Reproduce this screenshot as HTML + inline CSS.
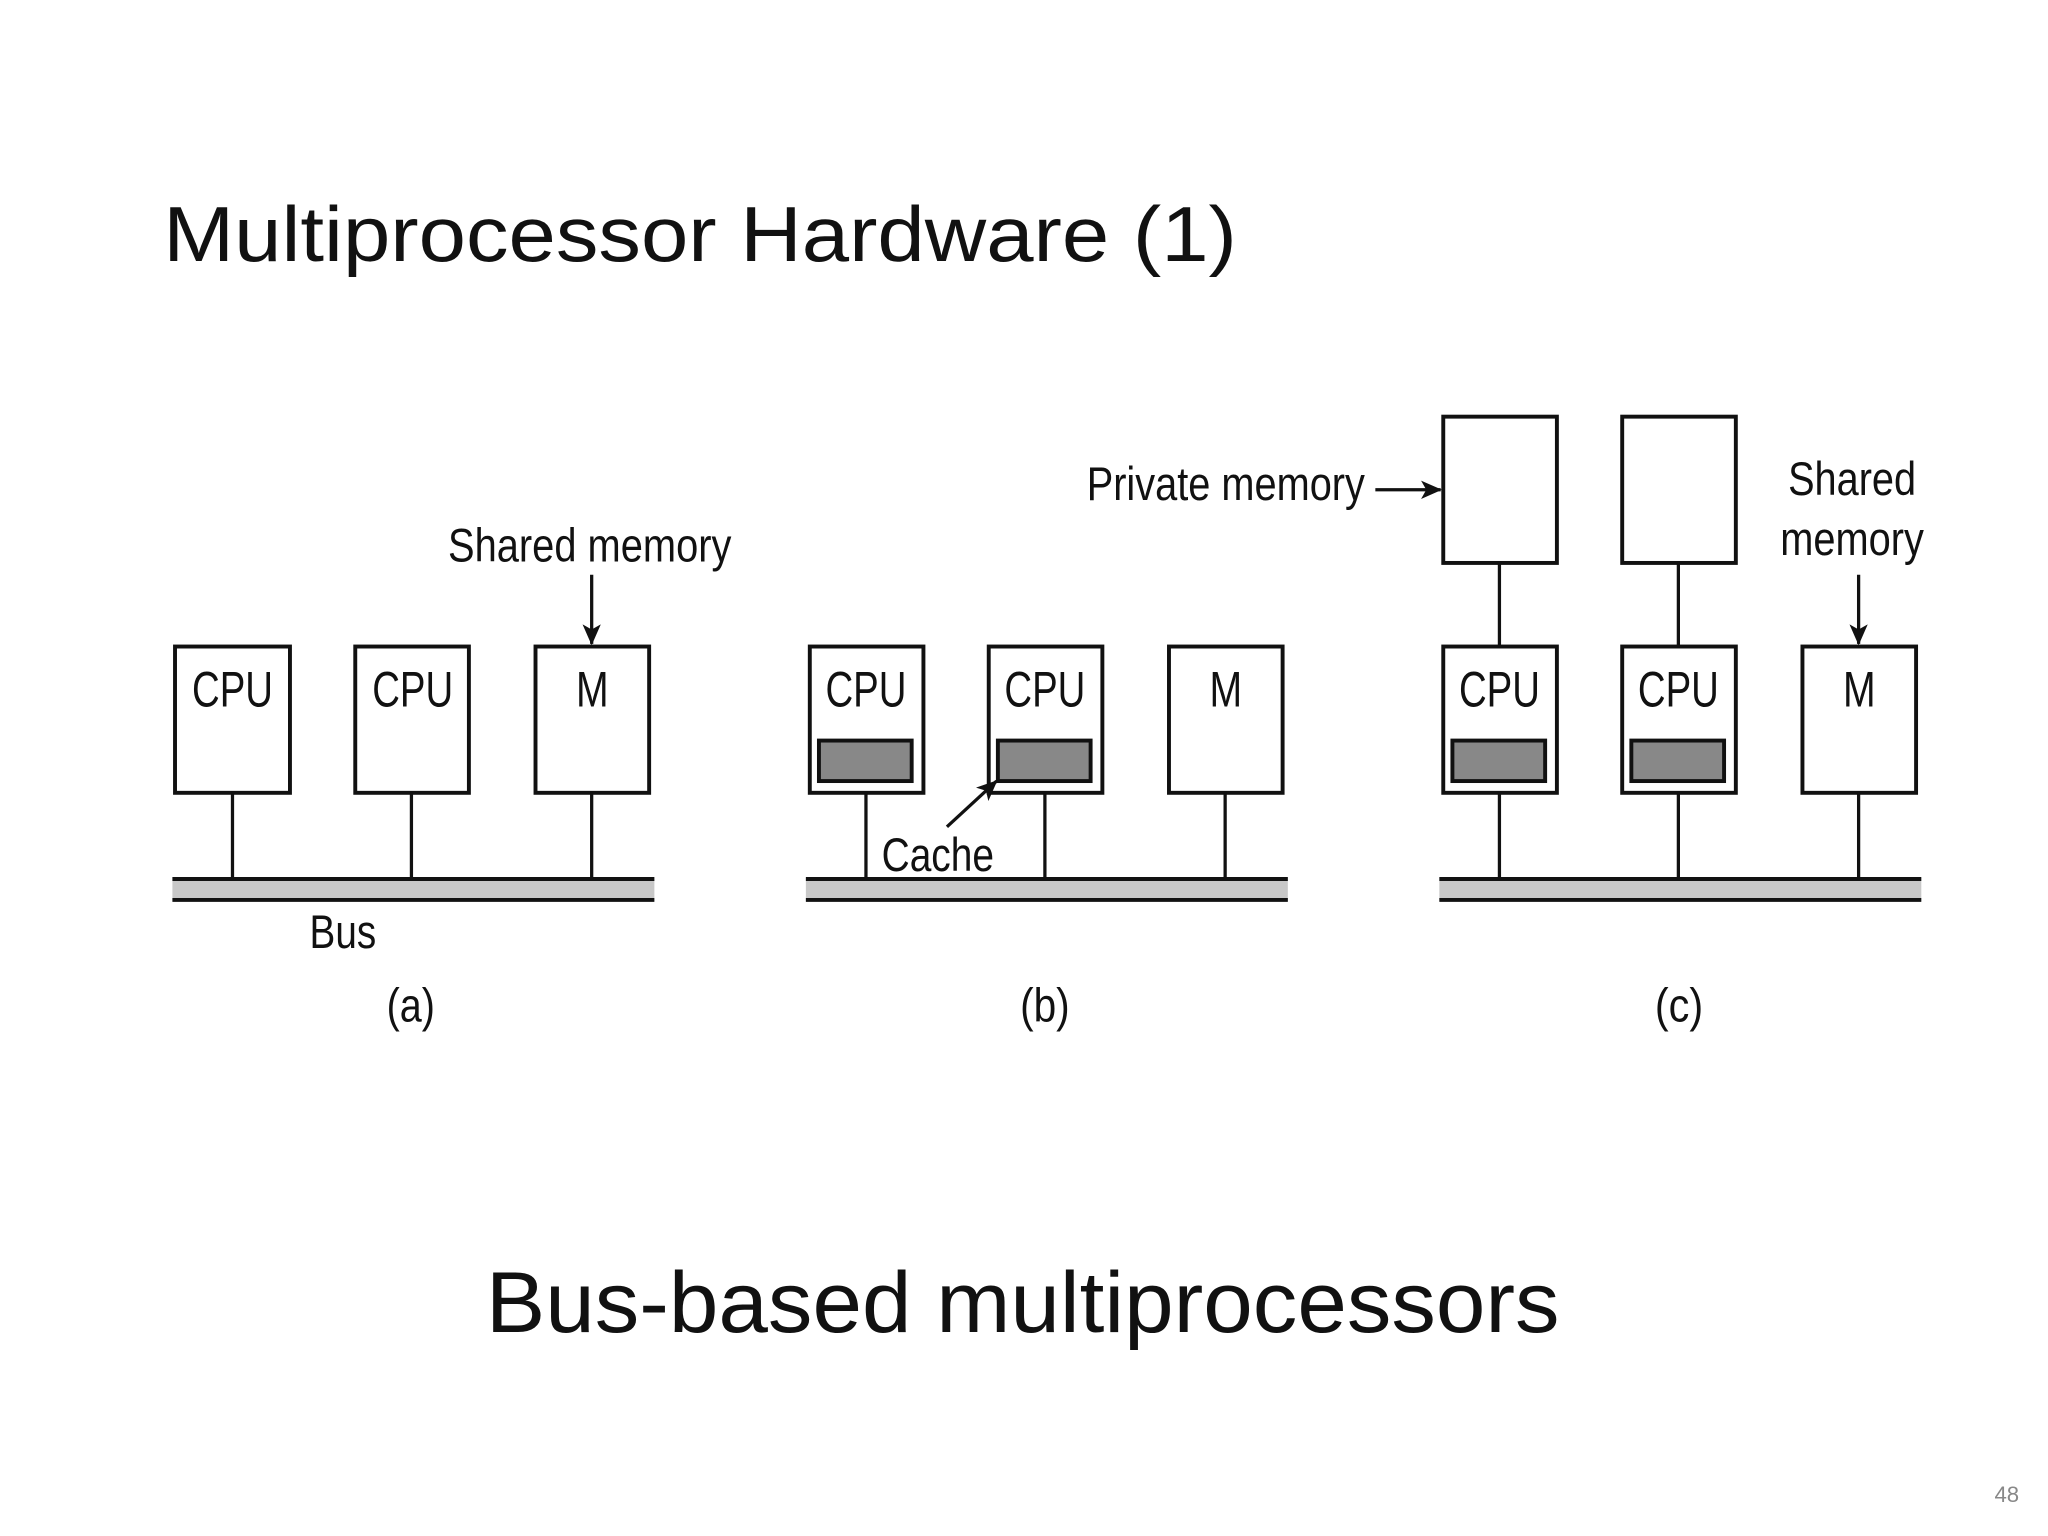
<!DOCTYPE html>
<html><head><meta charset="utf-8"><style>
html,body{margin:0;padding:0;background:#fff;}
svg{display:block;}
</style></head><body>
<svg width="2048" height="1536" viewBox="0 0 1568 1176" xmlns="http://www.w3.org/2000/svg">
<defs>
<marker id="ah" markerWidth="16" markerHeight="14" refX="15" refY="7" orient="auto" markerUnits="userSpaceOnUse">
<path d="M0,0 L16,7 L0,14 L4,7 z" fill="#111"/>
</marker>
<g id="bus">
<rect x="0" y="672" width="369" height="18" fill="#c8c8c8"/>
<line x1="0" y1="673" x2="369" y2="673" stroke="#111" stroke-width="3"/>
<line x1="0" y1="689" x2="369" y2="689" stroke="#111" stroke-width="3"/>
</g>
</defs>
<text x="125" y="200" font-family="Liberation Sans, sans-serif" font-size="60" fill="#111" textLength="822" lengthAdjust="spacingAndGlyphs">Multiprocessor Hardware (1)</text>

<g font-family="Liberation Sans, sans-serif" fill="#111" font-size="38">
<!-- (a) -->
<g fill="#fff" stroke="#111" stroke-width="3">
<rect x="134" y="495" width="88" height="112"/>
<rect x="272" y="495" width="87" height="112"/>
<rect x="410" y="495" width="87" height="112"/>
</g>
<g stroke="#111" stroke-width="2.5">
<line x1="178" y1="607" x2="178" y2="672"/>
<line x1="315" y1="607" x2="315" y2="672"/>
<line x1="453" y1="607" x2="453" y2="672"/>
<line x1="453" y1="440" x2="453" y2="493" marker-end="url(#ah)"/>
</g>
<use href="#bus" x="132"/>
<text x="147" y="541" textLength="62" lengthAdjust="spacingAndGlyphs">CPU</text>
<text x="285" y="541" textLength="62" lengthAdjust="spacingAndGlyphs">CPU</text>
<text x="441" y="541" textLength="25" lengthAdjust="spacingAndGlyphs">M</text>
<text x="343" y="430" textLength="217" lengthAdjust="spacingAndGlyphs" font-size="36">Shared memory</text>
<text x="237" y="726" textLength="51" lengthAdjust="spacingAndGlyphs" font-size="36">Bus</text>
<text x="296" y="782" textLength="37" lengthAdjust="spacingAndGlyphs" font-size="36">(a)</text>

<!-- (b) -->
<g fill="#fff" stroke="#111" stroke-width="3">
<rect x="620" y="495" width="87" height="112"/>
<rect x="757" y="495" width="87" height="112"/>
<rect x="895" y="495" width="87" height="112"/>
</g>
<g fill="#888" stroke="#111" stroke-width="3">
<rect x="627" y="567" width="71" height="31"/>
<rect x="764" y="567" width="71" height="31"/>
</g>
<g stroke="#111" stroke-width="2.5">
<line x1="663" y1="607" x2="663" y2="672"/>
<line x1="800" y1="607" x2="800" y2="672"/>
<line x1="938" y1="607" x2="938" y2="672"/>
<line x1="725" y1="633" x2="763" y2="598" marker-end="url(#ah)"/>
</g>
<use href="#bus" x="617"/>
<text x="632" y="541" textLength="62" lengthAdjust="spacingAndGlyphs">CPU</text>
<text x="769" y="541" textLength="62" lengthAdjust="spacingAndGlyphs">CPU</text>
<text x="926" y="541" textLength="25" lengthAdjust="spacingAndGlyphs">M</text>
<text x="675" y="667" textLength="86" lengthAdjust="spacingAndGlyphs" font-size="36">Cache</text>
<text x="781" y="782" textLength="38" lengthAdjust="spacingAndGlyphs" font-size="36">(b)</text>

<!-- (c) -->
<g fill="#fff" stroke="#111" stroke-width="3">
<rect x="1105" y="319" width="87" height="112"/>
<rect x="1242" y="319" width="87" height="112"/>
<rect x="1105" y="495" width="87" height="112"/>
<rect x="1242" y="495" width="87" height="112"/>
<rect x="1380" y="495" width="87" height="112"/>
</g>
<g fill="#888" stroke="#111" stroke-width="3">
<rect x="1112" y="567" width="71" height="31"/>
<rect x="1249" y="567" width="71" height="31"/>
</g>
<g stroke="#111" stroke-width="2.5">
<line x1="1148" y1="431" x2="1148" y2="495"/>
<line x1="1285" y1="431" x2="1285" y2="495"/>
<line x1="1148" y1="607" x2="1148" y2="672"/>
<line x1="1285" y1="607" x2="1285" y2="672"/>
<line x1="1423" y1="607" x2="1423" y2="672"/>
<line x1="1423" y1="440" x2="1423" y2="493" marker-end="url(#ah)"/>
<line x1="1053" y1="375" x2="1103" y2="375" marker-end="url(#ah)"/>
</g>
<use href="#bus" x="1102"/>
<text x="1117" y="541" textLength="62" lengthAdjust="spacingAndGlyphs">CPU</text>
<text x="1254" y="541" textLength="62" lengthAdjust="spacingAndGlyphs">CPU</text>
<text x="1411" y="541" textLength="25" lengthAdjust="spacingAndGlyphs">M</text>
<text x="832" y="383" textLength="213" lengthAdjust="spacingAndGlyphs" font-size="36">Private memory</text>
<text x="1369" y="379" textLength="98" lengthAdjust="spacingAndGlyphs" font-size="36">Shared</text>
<text x="1363" y="425" textLength="110" lengthAdjust="spacingAndGlyphs" font-size="36">memory</text>
<text x="1267" y="782" textLength="37" lengthAdjust="spacingAndGlyphs" font-size="36">(c)</text>
</g>

<text x="372" y="1020" font-family="Liberation Sans, sans-serif" font-size="66" fill="#111" textLength="822" lengthAdjust="spacingAndGlyphs">Bus-based multiprocessors</text>
<text x="1527" y="1150" font-family="Liberation Sans, sans-serif" font-size="17" fill="#888">48</text>
</svg>
</body></html>
